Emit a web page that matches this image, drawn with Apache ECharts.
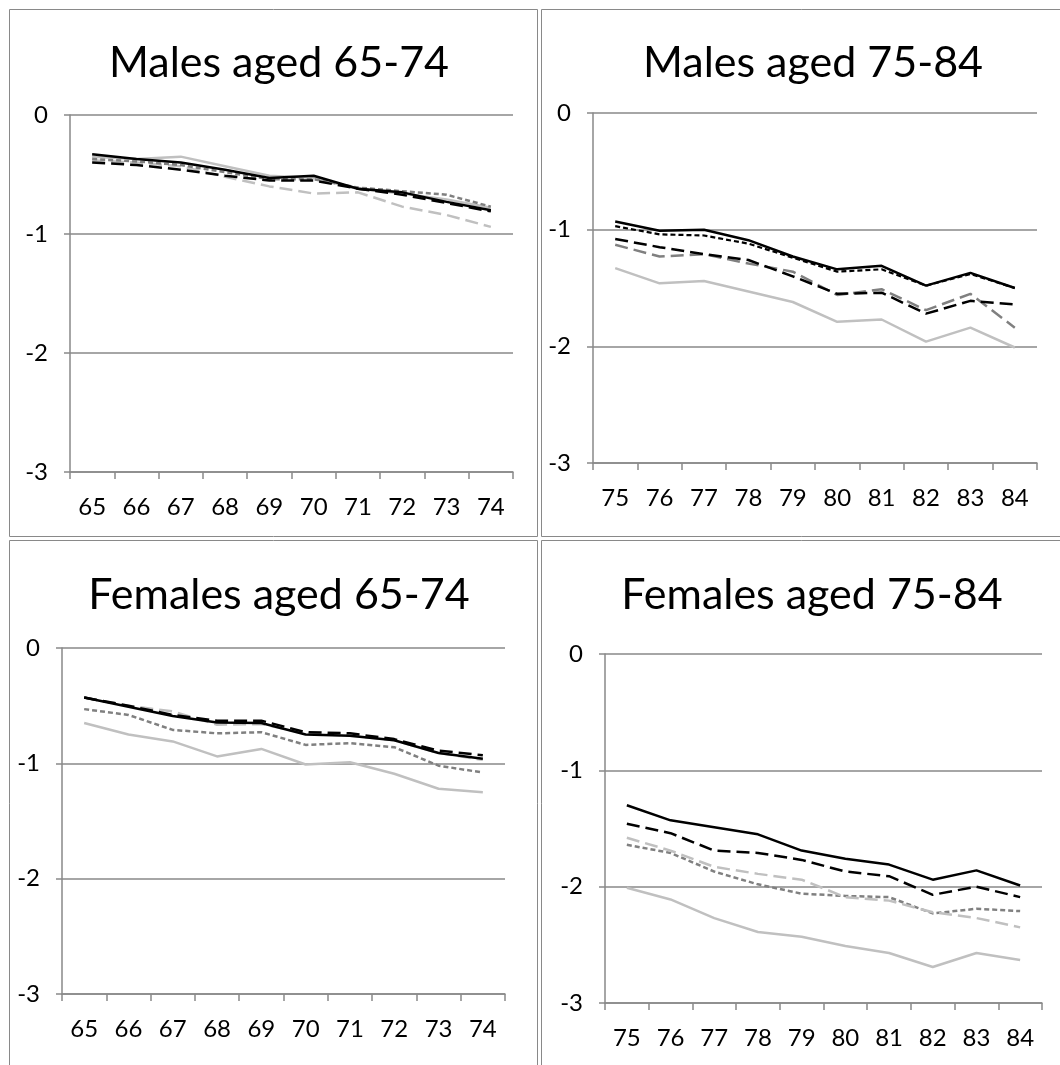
<!DOCTYPE html>
<html>
<head>
<meta charset="utf-8">
<script src="https://cdn.jsdelivr.net/npm/echarts@6/dist/echarts.min.js"></script>
<style>
html,body{margin:0;padding:0;background:#fff;}
#c{width:1060px;height:1065px;}
</style>
</head>
<body>
<div id="c"></div>
<script>
// ---- categories ----
const ages6574 = ['65','66','67','68','69','70','71','72','73','74'];
const ages7584 = ['75','76','77','78','79','80','81','82','83','84'];
const panelTitles = ['Males aged 65-74','Males aged 75-84','Females aged 65-74','Females aged 75-84'];

// ---- Males aged 65-74 ----
const m1BlackSolid = [-0.33,-0.37,-0.40,-0.46,-0.53,-0.51,-0.62,-0.65,-0.73,-0.80];
const m1LightSolid = [-0.35,-0.37,-0.35,-0.43,-0.51,-0.53,-0.62,-0.66,-0.71,-0.78];
const m1DarkShort  = [-0.37,-0.39,-0.42,-0.48,-0.54,-0.54,-0.61,-0.64,-0.67,-0.77];
const m1BlackLong  = [-0.40,-0.42,-0.46,-0.51,-0.55,-0.55,-0.62,-0.67,-0.74,-0.81];
const m1LightLong  = [-0.38,-0.40,-0.43,-0.52,-0.60,-0.66,-0.65,-0.77,-0.84,-0.94];

// ---- Males aged 75-84 ----
const m2BlackSolid = [-0.93,-1.01,-1.00,-1.09,-1.23,-1.34,-1.31,-1.48,-1.37,-1.50];
const m2BlackShort = [-0.97,-1.04,-1.05,-1.12,-1.24,-1.36,-1.34,-1.48,-1.38,-1.50];
const m2BlackLong  = [-1.08,-1.15,-1.21,-1.26,-1.40,-1.55,-1.54,-1.72,-1.61,-1.64];
const m2DarkLong   = [-1.13,-1.23,-1.21,-1.29,-1.36,-1.56,-1.51,-1.69,-1.55,-1.84];
const m2LightSolid = [-1.33,-1.46,-1.44,-1.53,-1.62,-1.79,-1.77,-1.96,-1.84,-2.01];

// ---- Females aged 65-74 ----
const f1BlackSolid = [-0.43,-0.51,-0.59,-0.645,-0.65,-0.75,-0.76,-0.80,-0.91,-0.96];
const f1BlackLong  = [-0.43,-0.50,-0.58,-0.63,-0.63,-0.73,-0.74,-0.79,-0.89,-0.93];
const f1LightLong  = [-0.43,-0.50,-0.55,-0.665,-0.66,-0.74,-0.76,-0.80,-0.91,-0.97];
const f1DarkShort  = [-0.53,-0.58,-0.71,-0.74,-0.73,-0.84,-0.825,-0.86,-1.02,-1.08];
const f1LightSolid = [-0.65,-0.75,-0.81,-0.94,-0.875,-1.01,-0.99,-1.09,-1.22,-1.25];

// ---- Females aged 75-84 ----
const f2BlackSolid = [-1.30,-1.43,-1.49,-1.55,-1.69,-1.76,-1.81,-1.94,-1.86,-1.99];
const f2BlackLong  = [-1.46,-1.54,-1.69,-1.71,-1.77,-1.87,-1.91,-2.07,-2.00,-2.09];
const f2LightLong  = [-1.58,-1.69,-1.83,-1.89,-1.94,-2.09,-2.12,-2.22,-2.27,-2.35];
const f2DarkShort  = [-1.64,-1.71,-1.87,-1.98,-2.06,-2.08,-2.09,-2.23,-2.19,-2.21];
const f2LightSolid = [-2.01,-2.11,-2.27,-2.39,-2.43,-2.51,-2.57,-2.69,-2.57,-2.63];

// ---- styles ----
const FONT = 'Lato';
const AXIS_GRAY = '#898989';
const STY = {
  blackSolid: {color:'#000000', type:'solid', width:2.5},
  blackLong:  {color:'#000000', type:[13,6], width:2.5},
  blackShort: {color:'#000000', type:[5,3], width:2.2},
  darkLong:   {color:'#808080', type:[13,6], width:2.5},
  darkShort:  {color:'#808080', type:[5,3], width:2.5},
  lightSolid: {color:'#c0c0c0', type:'solid', width:2.5},
  lightLong:  {color:'#c0c0c0', type:[13,6], width:2.5}
};

const panels = [
  {grid:{left:70, top:115, width:443, height:357}, cats:ages6574, titleX:274, titleY:37,
   series:[['lightLong',m1LightLong],['lightSolid',m1LightSolid],['darkShort',m1DarkShort],['blackLong',m1BlackLong],['blackSolid',m1BlackSolid]]},
  {grid:{left:593, top:113, width:444, height:350}, cats:ages7584, titleX:808, titleY:37,
   series:[['lightSolid',m2LightSolid],['darkLong',m2DarkLong],['blackLong',m2BlackLong],['blackShort',m2BlackShort],['blackSolid',m2BlackSolid]]},
  {grid:{left:62, top:648, width:443, height:346}, cats:ages6574, titleX:274, titleY:569,
   series:[['lightSolid',f1LightSolid],['darkShort',f1DarkShort],['lightLong',f1LightLong],['blackLong',f1BlackLong],['blackSolid',f1BlackSolid]]},
  {grid:{left:605, top:654, width:437, height:349}, cats:ages7584, titleX:807, titleY:569,
   series:[['lightSolid',f2LightSolid],['darkShort',f2DarkShort],['lightLong',f2LightLong],['blackLong',f2BlackLong],['blackSolid',f2BlackSolid]]}
];

const option = {
  backgroundColor:'#ffffff',
  animation:false,
  title:[], grid:[], xAxis:[], yAxis:[], series:[],
  graphic:[
    {type:'rect', shape:{x:9.5,y:9.5,width:528,height:527}, style:{fill:'none',stroke:AXIS_GRAY,lineWidth:1}},
    {type:'rect', shape:{x:541.5,y:9.5,width:530,height:527}, style:{fill:'none',stroke:AXIS_GRAY,lineWidth:1}},
    {type:'rect', shape:{x:9.5,y:540.5,width:528,height:540}, style:{fill:'none',stroke:AXIS_GRAY,lineWidth:1}},
    {type:'rect', shape:{x:541.5,y:540.5,width:530,height:540}, style:{fill:'none',stroke:AXIS_GRAY,lineWidth:1}}
  ]
};

panels.forEach((p,i)=>{
  option.title.push({text:panelTitles[i], left:p.titleX, top:p.titleY, textAlign:'center',
    textStyle:{fontFamily:FONT, fontSize:43, fontWeight:'normal', color:'#000'}});
  option.grid.push(Object.assign({containLabel:false}, p.grid));
  option.xAxis.push({type:'category', gridIndex:i, data:p.cats, boundaryGap:true,
    axisLine:{show:true, onZero:false, lineStyle:{color:AXIS_GRAY, width:1.5}},
    axisTick:{show:true, alignWithLabel:false, length:7, lineStyle:{color:AXIS_GRAY, width:1.5}},
    axisLabel:{fontFamily:FONT, fontSize:24, color:'#000', margin:23},
    splitLine:{show:false}});
  option.yAxis.push({type:'value', gridIndex:i, min:-3, max:0, interval:1,
    axisLine:{show:true, lineStyle:{color:AXIS_GRAY, width:1.5}},
    axisTick:{show:true, length:6, lineStyle:{color:AXIS_GRAY, width:1.5}},
    axisLabel:{fontFamily:FONT, fontSize:24, color:'#000', margin:22},
    splitLine:{show:true, lineStyle:{color:AXIS_GRAY, width:1.5}}});
  p.series.forEach(([k,data])=>{
    const s = STY[k];
    option.series.push({type:'line', xAxisIndex:i, yAxisIndex:i, data:data,
      symbol:'none', smooth:false, silent:true,
      lineStyle:{color:s.color, type:s.type, width:s.width}});
  });
});

const chart = echarts.init(document.getElementById('c'), null, {renderer:'canvas'});
chart.setOption(option);
</script>
</body>
</html>
